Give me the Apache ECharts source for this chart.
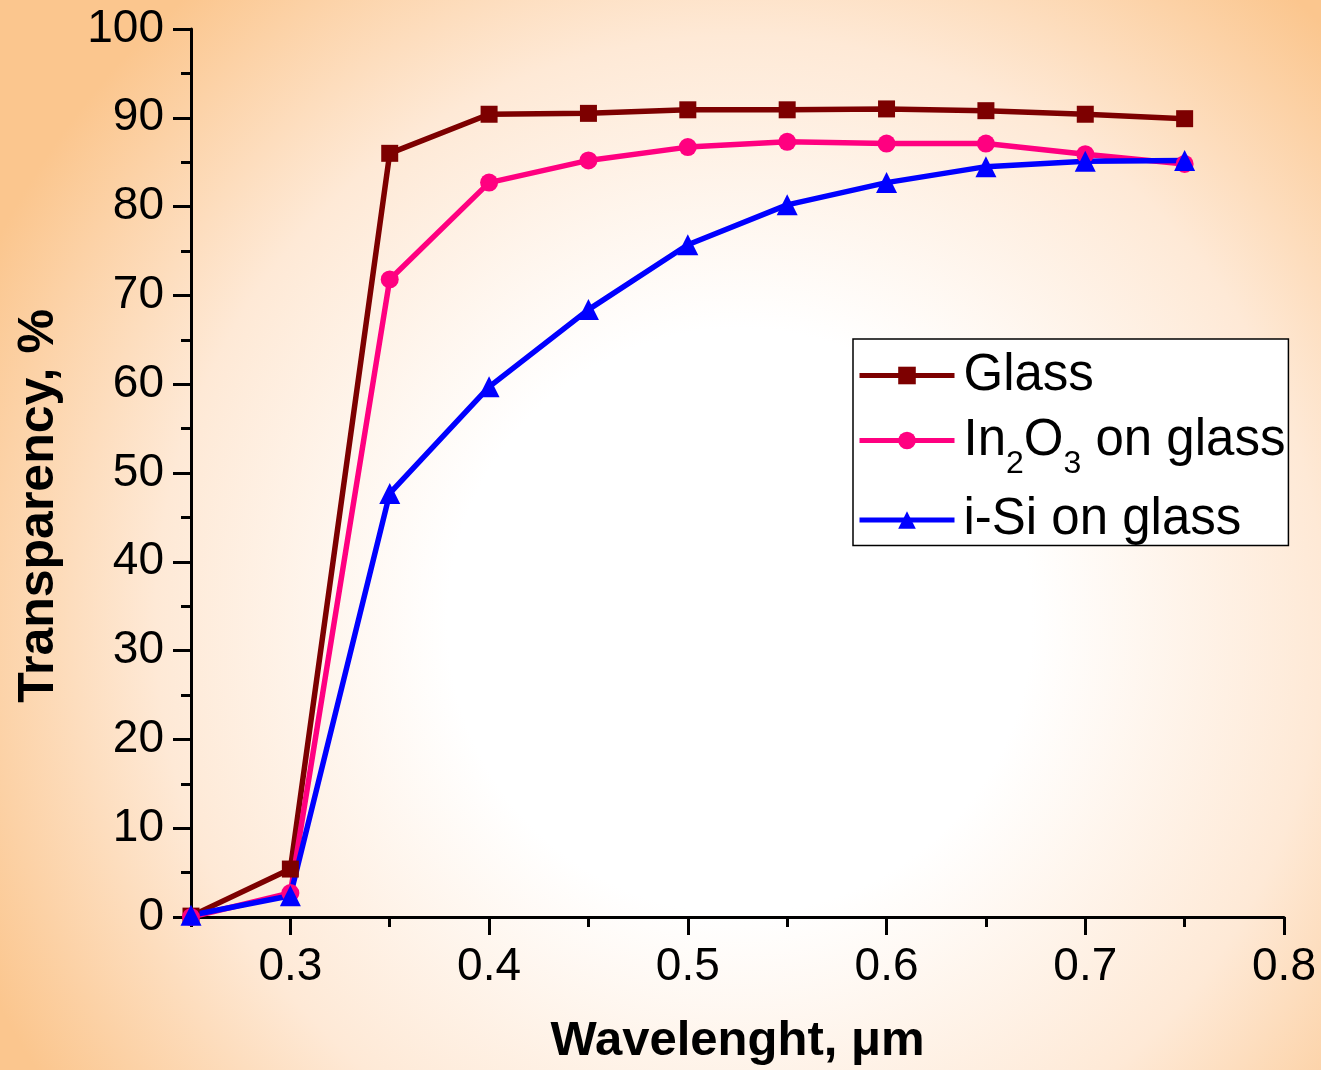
<!DOCTYPE html>
<html>
<head>
<meta charset="utf-8">
<script src="https://cdn.jsdelivr.net/npm/echarts@6/dist/echarts.min.js"></script>
<style>html,body{margin:0;padding:0;}#c{width:1321px;height:1070px;}</style>
</head>
<body>
<div id="c"></div>
<script>
const wavelength = [0.25, 0.30, 0.35, 0.40, 0.45, 0.50, 0.55, 0.60, 0.65, 0.70, 0.75];
const glass = [0.1, 5.4, 86.0, 90.4, 90.5, 90.9, 90.9, 91.0, 90.8, 90.4, 89.9];
const in2o3 = [0.0, 2.7, 71.8, 82.7, 85.2, 86.7, 87.3, 87.1, 87.1, 85.9, 84.8];
const iSi   = [0.2, 2.4, 47.7, 59.7, 68.4, 75.7, 80.2, 82.7, 84.5, 85.1, 85.2];
const xMajorTicks = [0.3, 0.4, 0.5, 0.6, 0.7, 0.8];
const xMinorTicks = [0.25, 0.35, 0.45, 0.55, 0.65, 0.75];
const seriesNames = ['Glass', 'In2O3 on glass', 'i-Si on glass'];

const pair = (ys) => wavelength.map((x, i) => [x, ys[i]]);
const font = '"Liberation Sans", Arial, Helvetica, sans-serif';

const chart = echarts.init(document.getElementById('c'));
chart.setOption({
  backgroundColor: {
    type: 'radial', x: 0.56, y: 0.58, r: 0.78,
    colorStops: [
      {offset: 0, color: '#ffffff'},
      {offset: 0.35, color: '#ffffff'},
      {offset: 0.7, color: '#fee9d6'},
      {offset: 1, color: '#fbc68e'}
    ]
  },
  animation: false,
  grid: {left: 191, right: 37, top: 29, bottom: 153, containLabel: false, outerBoundsMode: 'none'},
  legend: {
    orient: 'vertical',
    left: 853, top: 339,
    itemWidth: 95, itemHeight: 22, itemGap: 14,
    padding: [11, 3, 0, 4],
    backgroundColor: '#ffffff',
    borderColor: '#000000', borderWidth: 1.5, borderRadius: 0,
    lineStyle: {width: 5},
    data: seriesNames,
    formatter: function (name) {
      if (name === 'In2O3 on glass') return '{f|In}{s|2}{m|O}{s|3}{m| on glass}';
      return '{f|' + name + '}';
    },
    textStyle: {
      fontFamily: font, fontSize: 51, color: '#000',
      rich: {
        f: {fontFamily: font, fontSize: 51, color: '#000', lineHeight: 58, padding: [0, 0, 0, 4]},
        m: {fontFamily: font, fontSize: 51, color: '#000', lineHeight: 58},
        s: {fontFamily: font, fontSize: 32, color: '#000', verticalAlign: 'bottom', padding: [48, 0, 0, 0]}
      }
    }
  },
  xAxis: [{
    type: 'value', min: 0.25, max: 0.8,
    name: 'Wavelenght, \u03bcm', nameLocation: 'middle', nameGap: 100,
    nameTextStyle: {fontFamily: font, fontSize: 49, fontWeight: 'bold', color: '#000'},
    axisLine: {show: true, onZero: false, lineStyle: {color: '#000', width: 3}},
    axisTick: {show: true, inside: false, length: 18, customValues: xMajorTicks, lineStyle: {color: '#000', width: 3}},
    axisLabel: {show: true, margin: 27, customValues: xMajorTicks, fontFamily: font, fontSize: 46, color: '#000',
      formatter: v => v.toFixed(1)},
    splitLine: {show: false}
  }, {
    type: 'value', min: 0.25, max: 0.8, position: 'bottom',
    axisLine: {show: false},
    axisTick: {show: true, inside: false, length: 10, customValues: xMinorTicks, lineStyle: {color: '#000', width: 3}},
    axisLabel: {show: false},
    splitLine: {show: false}
  }],
  yAxis: {
    type: 'value', min: 0, max: 100, interval: 10,
    name: 'Transparency, %', nameLocation: 'middle', nameGap: 127,
    nameTextStyle: {fontFamily: font, fontSize: 50, fontWeight: 'bold', color: '#000', padding: [0, 66, 0, 0]},
    axisLine: {show: true, lineStyle: {color: '#000', width: 3}},
    axisTick: {show: true, inside: false, length: 18, lineStyle: {color: '#000', width: 3}},
    minorTick: {show: true, splitNumber: 2, length: 10, lineStyle: {color: '#000', width: 3}},
    axisLabel: {margin: 27, fontFamily: font, fontSize: 46, color: '#000'},
    splitLine: {show: false}
  },
  series: [{
    name: seriesNames[0], type: 'line', data: pair(glass),
    symbol: 'rect', symbolSize: 17, color: '#7d0000',
    lineStyle: {width: 5.5, color: '#7d0000'}, itemStyle: {color: '#7d0000'}
  }, {
    name: seriesNames[1], type: 'line', data: pair(in2o3),
    symbol: 'circle', symbolSize: 18, color: '#ff0080',
    lineStyle: {width: 5.5, color: '#ff0080'}, itemStyle: {color: '#ff0080'}
  }, {
    name: seriesNames[2], type: 'line', data: pair(iSi),
    symbol: 'triangle', symbolSize: 21, color: '#0000ff',
    lineStyle: {width: 5.5, color: '#0000ff'}, itemStyle: {color: '#0000ff'}
  }]
});
</script>
</body>
</html>
